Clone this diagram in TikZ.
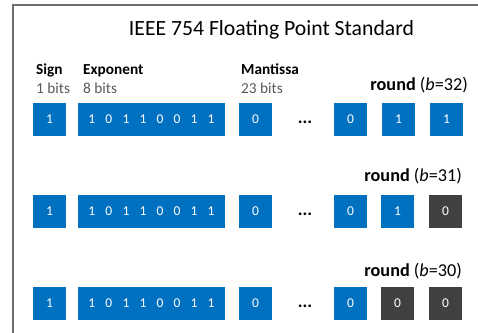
\documentclass[tikz,border=0pt]{standalone}
\usepackage{fontspec}
\setmainfont{Carlito}
\definecolor{bitblue}{HTML}{0070C0}
\definecolor{bitdark}{HTML}{404040}
\definecolor{framegray}{HTML}{6E6E6E}
\definecolor{subgray}{HTML}{595959}
\newcommand{\dgap}{\hskip 10.2pt}
\begin{document}
\begin{tikzpicture}[x=1pt,y=-1pt,
  bitbox/.style={draw=none, fill=bitblue, text=white, minimum width=33pt, minimum height=33pt, inner sep=0pt, font=\fontsize{13.5}{15}\selectfont},
  darkbox/.style={bitbox, fill=bitdark},
  headlbl/.style={anchor=base west, inner sep=0pt, font=\fontsize{15.3}{18}\bfseries\selectfont},
  sublbl/.style={anchor=base west, inner sep=0pt, text=subgray, font=\fontsize{15.3}{18}\selectfont},
  roundlbl/.style={anchor=base east, inner sep=0pt, font=\fontsize{18.2}{20}\selectfont},
  dotslbl/.style={inner sep=0pt, anchor=base, font=\fontsize{18}{20}\bfseries\selectfont}]
\useasboundingbox (0,0) rectangle (478,332);
\draw[framegray, line width=1.6pt] (13,333) -- (13,5) -- (479,5);
\node[inner sep=0pt, anchor=base] (title) at (271.5,35.5) {\fontsize{21.7}{26}\selectfont IEEE 754 Floating Point Standard};
\node[headlbl] (signl) at (36,74.5) {Sign};
\node[sublbl] (signs) at (36,93) {1 bits};
\node[headlbl] (expl) at (83,74.5) {Exponent};
\node[sublbl] (exps) at (83,93) {8 bits};
\node[headlbl] (mantl) at (241,74.5) {Mantissa};
\node[sublbl] (mants) at (241,93) {23 bits};
% row 1
\node[roundlbl] (r1) at (468,90) {\textbf{round} (\textit{b}=32)};
\node[bitbox] (s1) at (49.5,119.5) {1};
\node[bitbox, minimum width=147pt] (e1) at (151.5,119.5) {1\dgap0\dgap1\dgap1\dgap0\dgap0\dgap1\dgap1};
\node[bitbox] (m1) at (255.5,119.5) {0};
\node[dotslbl] (d1) at (305,123.5) {...};
\node[bitbox] (a1) at (350.5,119.5) {0};
\node[bitbox] (b1) at (398.5,119.5) {1};
\node[bitbox] (c1) at (446.5,119.5) {1};
% row 2
\node[roundlbl] (r2) at (462,181.5) {\textbf{round} (\textit{b}=31)};
\node[bitbox] (s2) at (49.5,211.5) {1};
\node[bitbox, minimum width=147pt] (e2) at (151.5,211.5) {1\dgap0\dgap1\dgap1\dgap0\dgap0\dgap1\dgap1};
\node[bitbox] (m2) at (255.5,211.5) {0};
\node[dotslbl] (d2) at (305,215.5) {...};
\node[bitbox] (a2) at (350.5,211.5) {0};
\node[bitbox] (b2) at (397.5,211.5) {1};
\node[darkbox] (c2) at (445.5,211.5) {0};
% row 3
\node[roundlbl] (r3) at (462,276) {\textbf{round} (\textit{b}=30)};
\node[bitbox] (s3) at (49.5,303.5) {1};
\node[bitbox, minimum width=147pt] (e3) at (151.5,303.5) {1\dgap0\dgap1\dgap1\dgap0\dgap0\dgap1\dgap1};
\node[bitbox] (m3) at (255.5,303.5) {0};
\node[dotslbl] (d3) at (305,307.5) {...};
\node[bitbox] (a3) at (350.5,303.5) {0};
\node[darkbox] (b3) at (397.5,303.5) {0};
\node[darkbox] (c3) at (445.5,303.5) {0};
\end{tikzpicture}
\end{document}
